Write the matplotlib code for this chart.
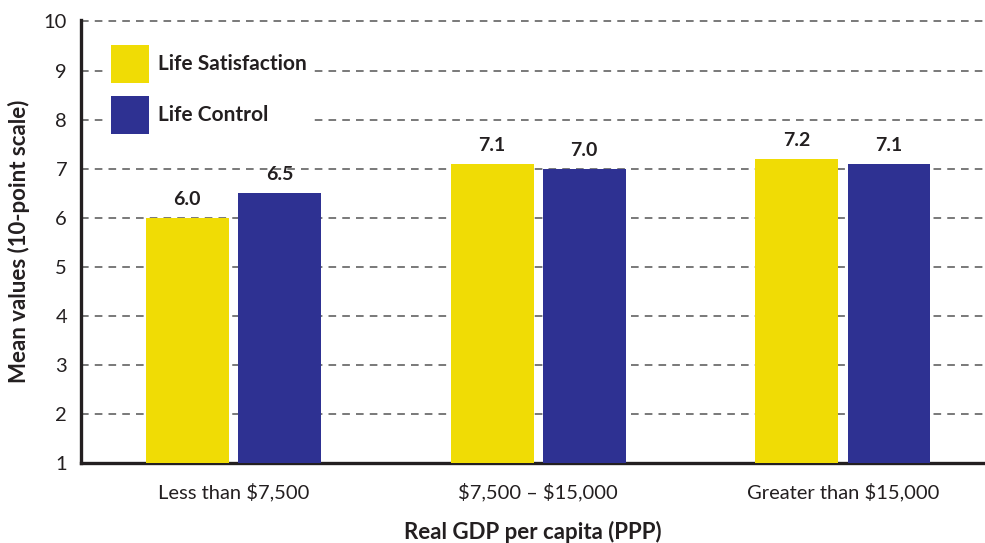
import numpy as np
import matplotlib
matplotlib.use("Agg")
import matplotlib.pyplot as plt

plt.rcParams['font.family'] = ['Lato', 'DejaVu Sans']

# data
categories = ["Less than \\$7,500", "\\$7,500 \u2013 \\$15,000", "Greater than \\$15,000"]
life_satisfaction = [6.0, 7.1, 7.2]
life_control = [6.5, 7.0, 7.1]
series_names = ["Life Satisfaction", "Life Control"]
yticks = list(range(1, 11))

YELLOW = "#F0DC05"
BLUE = "#2E3192"
TEXT = "#231F20"

fig = plt.figure(figsize=(9.85, 5.43), dpi=100)
ax = fig.add_axes([0.0822, 0.1473, 0.9178, 0.8159])

x = np.arange(len(categories))
w = 0.272
off = 0.151
b1 = ax.bar(x - off, np.array(life_satisfaction) - 1, w, bottom=1, color=YELLOW,
            label=series_names[0], zorder=3)
b2 = ax.bar(x + off, np.array(life_control) - 1, w, bottom=1, color=BLUE,
            label=series_names[1], zorder=3)

for bars, vals in ((b1, life_satisfaction), (b2, life_control)):
    for r, v in zip(bars, vals):
        ax.text(r.get_x() + r.get_width() / 2, v + 0.2, f"{v:.1f}",
                ha="center", va="bottom", fontsize=14, fontweight="bold",
                color=TEXT, zorder=4)

ax.set_xlim(-0.5, 2.466)
ax.set_ylim(1, 10.03)
ax.set_yticks(yticks)
ax.set_xticks(x)
ax.set_xticklabels(categories)
ax.tick_params(axis="both", length=0, colors=TEXT)
ax.tick_params(axis="x", pad=14, labelsize=14.5)
ax.tick_params(axis="y", pad=10, labelsize=14.5)

ax.yaxis.grid(True, linestyle=(0, (5, 4)), color="#555555", linewidth=1.1, zorder=0)
ax.set_axisbelow(True)
for s in ("top", "right"):
    ax.spines[s].set_visible(False)
for s in ("left", "bottom"):
    ax.spines[s].set_linewidth(2.4)
    ax.spines[s].set_color(TEXT)

ax.set_ylabel("Mean values (10-point scale)", fontsize=16, fontweight="bold",
              color=TEXT, labelpad=10)
ax.set_xlabel("Real GDP per capita (PPP)", fontsize=16, fontweight="bold",
              color=TEXT, labelpad=14)

leg = ax.legend(loc="upper left", bbox_to_anchor=(0.025, 0.96), frameon=True,
                facecolor="white", edgecolor="none", framealpha=1,
                prop={"weight": "bold", "size": 15},
                handlelength=1.83, handleheight=2.43, handletextpad=0.45,
                labelspacing=0.62, borderpad=0.35, borderaxespad=0)
leg.get_frame().set_boxstyle("square", pad=0)
for t in leg.get_texts():
    t.set_color(TEXT)
leg.set_zorder(5)

fig.savefig("out.png", dpi=100)
